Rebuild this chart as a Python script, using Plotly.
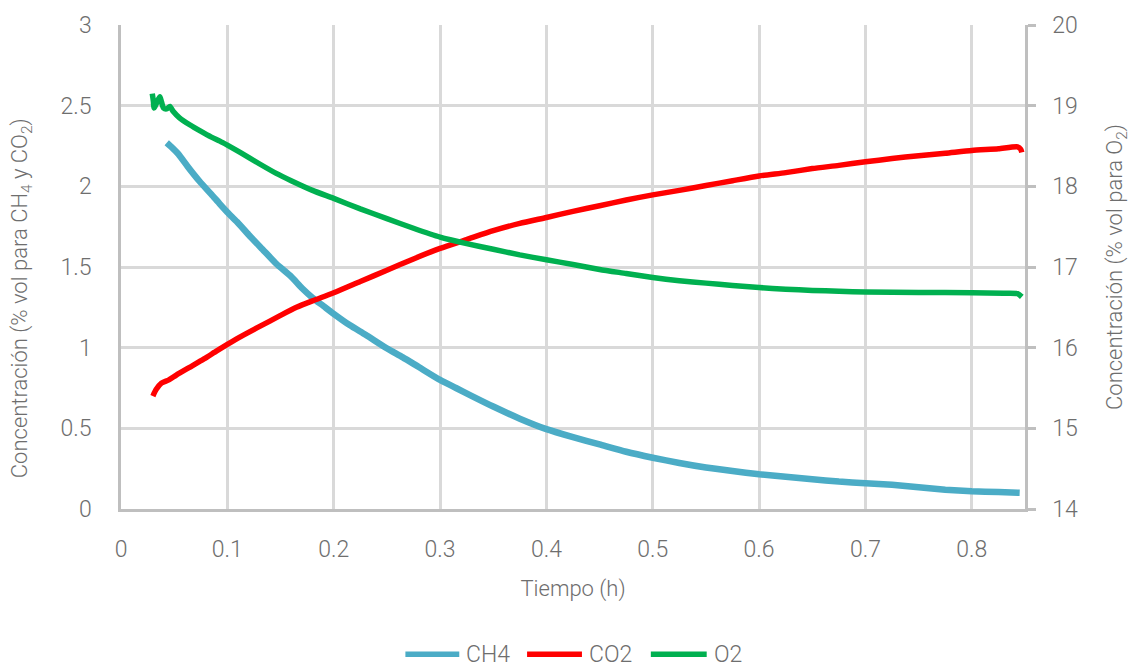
import plotly.graph_objects as go

# Methane concentration (% vol), left axis
ch4_t = [0.043, 0.048, 0.054, 0.063, 0.074, 0.085, 0.093, 0.100, 0.109, 0.120,
         0.133, 0.146, 0.160, 0.170, 0.180, 0.190, 0.200, 0.215, 0.230, 0.249,
         0.265, 0.280, 0.300, 0.315, 0.330, 0.350, 0.375, 0.400, 0.425, 0.450,
         0.475, 0.500, 0.525, 0.550, 0.575, 0.600, 0.625, 0.650, 0.675, 0.700,
         0.725, 0.750, 0.775, 0.800, 0.825, 0.845]
ch4_v = [2.27, 2.24, 2.20, 2.12, 2.03, 1.95, 1.89, 1.84, 1.78, 1.70,
         1.61, 1.52, 1.44, 1.37, 1.31, 1.26, 1.21, 1.14, 1.08, 1.00,
         0.94, 0.88, 0.80, 0.75, 0.70, 0.635, 0.56, 0.495, 0.445, 0.40,
         0.355, 0.318, 0.285, 0.257, 0.235, 0.215, 0.20, 0.185, 0.17, 0.16,
         0.15, 0.135, 0.12, 0.11, 0.105, 0.10]

# Carbon dioxide concentration (% vol), left axis
co2_t = [0.030, 0.033, 0.038, 0.045, 0.052, 0.065, 0.078, 0.090, 0.100, 0.113,
         0.130, 0.150, 0.165, 0.180, 0.200, 0.225, 0.250, 0.275, 0.300, 0.325,
         0.350, 0.375, 0.400, 0.425, 0.450, 0.475, 0.500, 0.525, 0.550, 0.575,
         0.600, 0.625, 0.650, 0.675, 0.700, 0.725, 0.750, 0.775, 0.800, 0.825,
         0.843, 0.846, 0.847]
co2_v = [0.70, 0.74, 0.78, 0.80, 0.83, 0.88, 0.93, 0.98, 1.02, 1.07,
         1.13, 1.20, 1.25, 1.29, 1.34, 1.41, 1.48, 1.55, 1.615, 1.67,
         1.725, 1.77, 1.807, 1.845, 1.88, 1.915, 1.947, 1.975, 2.005, 2.035,
         2.064, 2.085, 2.11, 2.13, 2.152, 2.172, 2.19, 2.205, 2.222, 2.233,
         2.245, 2.23, 2.21]

# Oxygen concentration (% vol), right axis
o2_t = [0.0294, 0.0305, 0.031, 0.034, 0.0366, 0.038, 0.040, 0.043, 0.046, 0.049,
        0.055, 0.065, 0.074, 0.085, 0.093, 0.100, 0.112, 0.130, 0.146, 0.160,
        0.180, 0.200, 0.225, 0.250, 0.275, 0.300, 0.325, 0.350, 0.375, 0.400,
        0.425, 0.450, 0.475, 0.500, 0.525, 0.550, 0.575, 0.600, 0.625, 0.650,
        0.675, 0.700, 0.750, 0.800, 0.830, 0.843, 0.847]
o2_v = [19.15, 19.05, 18.97, 19.05, 19.11, 19.05, 18.97, 18.96, 18.99, 18.93,
        18.85, 18.76, 18.69, 18.61, 18.56, 18.51, 18.42, 18.28, 18.16, 18.07,
        17.95, 17.85, 17.72, 17.60, 17.48, 17.37, 17.29, 17.22, 17.15, 17.09,
        17.03, 16.97, 16.92, 16.87, 16.83, 16.80, 16.77, 16.745, 16.725, 16.71,
        16.70, 16.69, 16.685, 16.68, 16.675, 16.67, 16.63]

series_names = ["CH4", "CO2", "O2"]
series_colors = ["#4bacc6", "#ff0000", "#00b050"]

TEXT = "#6e6e6e"
GRID = "#d9d9d9"
AXIS = "#bfbfbf"
TICK_FONT = dict(family="Roboto", size=23, color=TEXT, weight=300)
TITLE_FONT = dict(family="Roboto", size=22, color=TEXT, weight=300)

fig = go.Figure()
fig.add_trace(go.Scatter(x=ch4_t, y=ch4_v, name=series_names[0], mode="lines",
                         line=dict(color=series_colors[0], width=6.5, shape="spline", smoothing=0.6)))
fig.add_trace(go.Scatter(x=co2_t, y=co2_v, name=series_names[1], mode="lines",
                         line=dict(color=series_colors[1], width=5.5, shape="spline", smoothing=0.6)))
fig.add_trace(go.Scatter(x=o2_t, y=o2_v, name=series_names[2], mode="lines", yaxis="y2",
                         line=dict(color=series_colors[2], width=5.5, shape="spline", smoothing=0.6)))

# Legend drawn below the plot: a short line sample followed by the series name
legend_line_x = [(0.3146, 0.3742), (0.4492, 0.5099), (0.5861, 0.6479)]
legend_text_x = [0.3797, 0.5155, 0.6534]
legend_y = -0.300
for name, color, (x0, x1), tx in zip(series_names, series_colors, legend_line_x, legend_text_x):
    fig.add_shape(type="line", xref="paper", yref="paper", x0=x0, x1=x1,
                  y0=legend_y, y1=legend_y, line=dict(color=color, width=5.5))
    fig.add_annotation(xref="paper", yref="paper", x=tx, y=legend_y, text=name,
                       showarrow=False, xanchor="left", yanchor="middle",
                       font=TICK_FONT)

# Left axis title, placed as rotated text beside the tick labels
fig.add_annotation(xref="paper", yref="paper", x=-0.1093, y=0.436,
                   text="Concentración (% vol para CH<sub>4</sub> y CO<sub>2</sub>)",
                   textangle=-90, showarrow=False, xanchor="center", yanchor="middle",
                   font=TITLE_FONT)

fig.update_layout(
    width=1136, height=667,
    margin=dict(l=121, r=109, t=23, b=158),
    paper_bgcolor="white", plot_bgcolor="white",
    font=TICK_FONT,
    showlegend=False,
    xaxis=dict(
        range=[0, 0.85], dtick=0.1, tick0=0,
        showgrid=True, gridcolor=GRID, gridwidth=2.5,
        showline=True, linecolor=AXIS, linewidth=2.5,
        zeroline=False, ticks="", ticklabelstandoff=18,
        tickfont=TICK_FONT,
        title=dict(text="Tiempo (h)", font=TITLE_FONT, standoff=19),
    ),
    yaxis=dict(
        range=[0, 3], dtick=0.5, tick0=0,
        showgrid=True, gridcolor=GRID, gridwidth=2.5,
        showline=True, linecolor=AXIS, linewidth=2.5,
        zeroline=False, ticks="", ticklabelstandoff=22,
        tickfont=TICK_FONT,
    ),
    yaxis2=dict(
        range=[14, 20], dtick=1, tick0=14,
        overlaying="y", side="right",
        showgrid=False, zeroline=False,
        showline=True, linecolor=AXIS, linewidth=2.5,
        ticks="outside", ticklen=8, tickwidth=2.5, tickcolor=AXIS,
        ticklabelstandoff=12,
        tickfont=TICK_FONT,
        title=dict(text="Concentración (% vol para O<sub>2</sub>)", font=TITLE_FONT, standoff=30),
    ),
)

fig.write_html("out.html")
